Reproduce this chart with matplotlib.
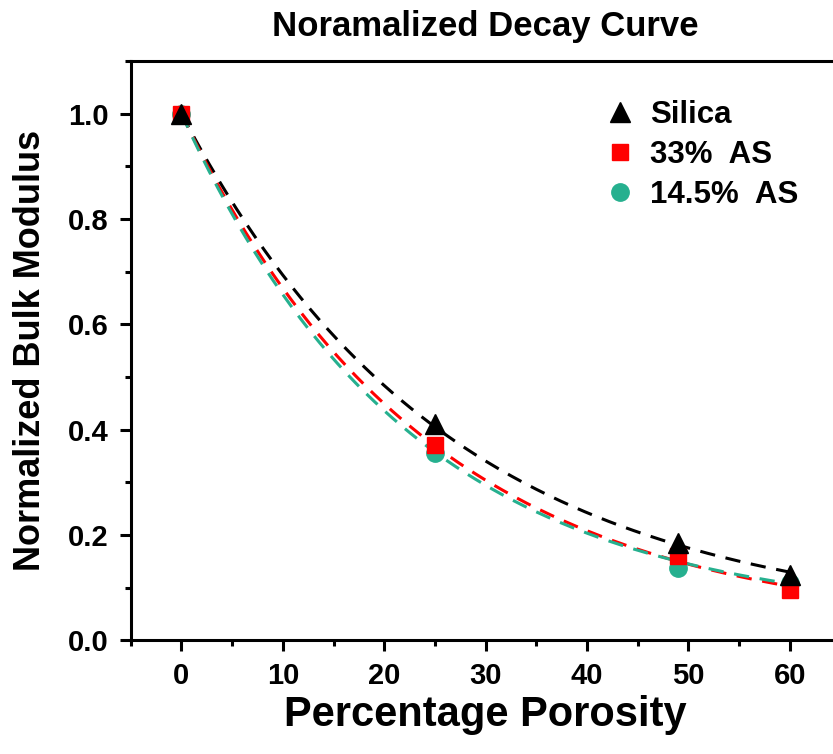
import numpy as np
import matplotlib
matplotlib.use("Agg")
import matplotlib.pyplot as plt
from matplotlib.ticker import MultipleLocator

plt.rcParams['font.family'] = ['Liberation Sans', 'DejaVu Sans']
plt.rcParams['font.weight'] = 'bold'

porosity = [0, 25, 49, 60]
silica = [1.0, 0.41, 0.185, 0.123]
as33 = [1.0, 0.37, 0.16, 0.095]
as145 = [1.0, 0.355, 0.137, 0.108]

# decay fit parameters y = y0 + (1 - y0) * exp(-k * x)
fit_y0 = [0.03, 0.02, 0.04]
fit_k = [0.038, 0.0413, 0.0443]

labels = ['Silica', '33%  AS', '14.5%  AS']
colors = ['black', '#ff0000', '#26b08f']
markers = ['^', 's', 'o']
msizes = [15, 11, 12.5]

fig = plt.figure(figsize=(8.33, 7.54), dpi=100)
ax = fig.add_axes([0.157, 0.151, 0.852, 0.768])

xfit = np.linspace(0, 60, 200)
for y0, k, c in zip(fit_y0, fit_k, colors):
    ax.plot(xfit, y0 + (1 - y0) * np.exp(-k * xfit), ls=(0, (5, 3.5)), color=c, lw=2.2, zorder=2)

handles = []
for y, c, m, ms, lab in zip([as145, as33, silica], colors[::-1], markers[::-1], msizes[::-1], labels[::-1]):
    h, = ax.plot(porosity, y, ls='none', marker=m, color=c, ms=ms, label=lab, zorder=3)
    handles.append(h)

fig.legend(handles[::-1], labels, loc='upper left', bbox_to_anchor=(0.683, 0.905), frameon=False,
           prop={'size': 22.5, 'weight': 'bold'}, handletextpad=0.25, labelspacing=0.33,
           handlelength=1.45)

ax.set_xlim(-5, 65)
ax.set_ylim(0, 1.1)
ax.set_xticks(range(0, 61, 10))
ax.xaxis.set_minor_locator(MultipleLocator(5))
ax.yaxis.set_major_locator(MultipleLocator(0.2))
ax.yaxis.set_minor_locator(MultipleLocator(0.1))
for s in ax.spines.values():
    s.set_linewidth(2.2)
ax.tick_params(which='major', length=8, width=2.2, labelsize=21, direction='out', pad=8)
ax.tick_params(which='minor', length=4.5, width=2.2, direction='out')
ax.set_xlim(-5, 65)

ax.set_xlabel('Percentage Porosity', fontsize=30, fontweight='bold', labelpad=3)
ax.set_ylabel('Normalized Bulk Modulus', fontsize=26, fontweight='bold', labelpad=14)
ax.set_title('Noramalized Decay Curve', fontsize=25, fontweight='bold', pad=18)

fig.savefig('out.png', dpi=100)
